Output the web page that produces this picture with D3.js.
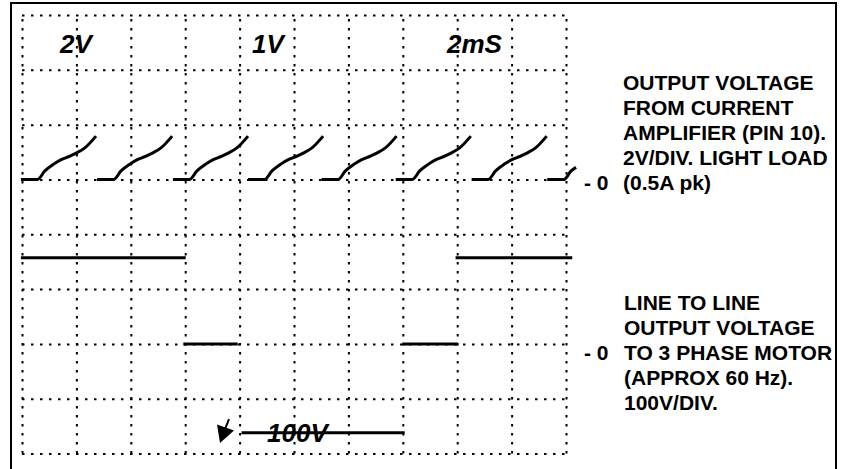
<!DOCTYPE html>
<html>
<head>
<meta charset="utf-8">
<script src="https://cdn.jsdelivr.net/npm/d3@7/dist/d3.min.js"></script>
<style>
body { margin:0; background:#fff; }
svg text { font-family:"Liberation Sans", Arial, sans-serif; font-weight:bold; fill:#000; }
</style>
</head>
<body>
<div id="chart"></div>
<script>
// scope screen: 10 x 8 divisions, 2mS/div
var timeTicks = [0,2,4,6,8,10,12,14,16,18,20];
var divTicks = [0,1,2,3,4,5,6,7,8];

// upper trace - current amplifier output (V), one array per ramp
var ampTimes = [
  [-0.04, 0.57, 0.84, 1.15, 1.46, 1.76, 2.01, 2.31, 2.72],
  [2.76, 3.37, 3.64, 3.95, 4.26, 4.56, 4.81, 5.11, 5.52],
  [5.55, 6.16, 6.43, 6.74, 7.05, 7.35, 7.60, 7.90, 8.31],
  [8.31, 8.92, 9.19, 9.50, 9.81, 10.11, 10.36, 10.66, 11.07],
  [11.01, 11.62, 11.89, 12.20, 12.51, 12.81, 13.06, 13.36, 13.77],
  [13.74, 14.35, 14.62, 14.93, 15.24, 15.54, 15.79, 16.09, 16.50],
  [16.53, 17.14, 17.41, 17.72, 18.03, 18.33, 18.58, 18.88, 19.29],
  [19.31, 19.92, 20.19, 20.37]
];
var ampVolts = [
  [0, 0, 0.31, 0.55, 0.73, 0.85, 0.97, 1.15, 1.58],
  [0, 0, 0.31, 0.55, 0.73, 0.85, 0.97, 1.15, 1.58],
  [0, 0, 0.31, 0.55, 0.73, 0.85, 0.97, 1.15, 1.58],
  [0, 0, 0.31, 0.55, 0.73, 0.85, 0.97, 1.15, 1.58],
  [0, 0, 0.31, 0.55, 0.73, 0.85, 0.97, 1.15, 1.58],
  [0, 0, 0.31, 0.55, 0.73, 0.85, 0.97, 1.15, 1.58],
  [0, 0, 0.31, 0.55, 0.73, 0.85, 0.97, 1.15, 1.58],
  [0, 0, 0.31, 0.44]
];

// lower trace - line to line motor voltage (V), flat steps
var motorStart = [-0.04, 5.93, 8.07, 13.98, 15.94];
var motorEnd   = [6.02, 7.93, 14.07, 16.02, 20.23];
var motorVolts = [157, 0, -162, 0, 157];

var scaleLabels = ["2V", "1V", "2mS"];
var ampNote = ["OUTPUT VOLTAGE", "FROM CURRENT", "AMPLIFIER (PIN 10).", "2V/DIV. LIGHT LOAD", "(0.5A pk)"];
var motorNote = ["LINE TO LINE", "OUTPUT VOLTAGE", "TO 3 PHASE MOTOR", "(APPROX 60 Hz).", "100V/DIV."];

var W = 841, H = 469;
var gLeft = 22, gRight = 566, gTop = 15, gBottom = 453.5;

var svg = d3.select("#chart").append("svg").attr("width", W).attr("height", H);

var x = d3.scaleLinear().domain([0, 20]).range([gLeft, gRight]);
var yDiv = d3.scaleLinear().domain([0, 8]).range([gBottom, gTop]);
var yAmp = d3.scaleLinear().domain([-10, 6]).range([gBottom, gTop]);      // 2V/div, 0 at div 5
var yMotor = d3.scaleLinear().domain([-200, 600]).range([gBottom, gTop]); // 100V/div, 0 at div 2

// frame
svg.append("rect").attr("x", 11).attr("y", 3).attr("width", 825).attr("height", 490)
  .attr("fill", "none").attr("stroke", "#000").attr("stroke-width", 2);

// dotted graticule
var gx = svg.append("g").attr("transform", "translate(0," + gBottom + ")")
  .call(d3.axisBottom(x).tickValues(timeTicks).tickSize(-(gBottom - gTop)).tickFormat(""));
var gy = svg.append("g").attr("transform", "translate(" + gLeft + ",0)")
  .call(d3.axisLeft(yDiv).tickValues(divTicks).tickSize(-(gRight - gLeft)).tickFormat(""));
[gx, gy].forEach(function(g){
  g.select(".domain").remove();
  g.selectAll(".tick line").attr("stroke", "#000").attr("stroke-width", 2).attr("stroke-dasharray", "2.5,6.5");
});

// upper trace
var ampLine = d3.line()
  .x(function(d){ return x(d[0]); })
  .y(function(d){ return yAmp(d[1]); })
  .curve(d3.curveMonotoneX);
var ampData = ampTimes.map(function(ts, i){
  return ts.map(function(t, j){ return [t, ampVolts[i][j]]; });
});
svg.append("g").selectAll("path").data(ampData).enter().append("path")
  .attr("d", ampLine).attr("fill", "none").attr("stroke", "#000").attr("stroke-width", 3);

// lower trace
svg.append("g").selectAll("line").data(motorVolts).enter().append("line")
  .attr("x1", function(d, i){ return x(motorStart[i]); })
  .attr("x2", function(d, i){ return x(motorEnd[i]); })
  .attr("y1", function(d){ return yMotor(d); })
  .attr("y2", function(d){ return yMotor(d); })
  .attr("stroke", "#000").attr("stroke-width", 3);

// scale readouts
var labelX = [60, 252, 447];
svg.append("g").selectAll("text").data(scaleLabels).enter().append("text")
  .attr("x", function(d, i){ return labelX[i]; })
  .attr("y", 53)
  .style("font-size", "26px").style("font-style", "italic")
  .text(function(d){ return d; });

svg.append("text").attr("x", 267).attr("y", 442)
  .style("font-size", "26px").style("font-style", "italic").text("100V");

// channel marker arrow
var tip = [x(7.28), yDiv(0.19)];
var mk = svg.append("g").attr("transform", "translate(" + tip[0] + "," + tip[1] + ")");
mk.append("path").attr("d", "M0,0L14,-12.5L-3,-18.5Z").attr("fill", "#000");
mk.append("line").attr("x1", 5).attr("y1", -14).attr("x2", 9).attr("y2", -24)
  .attr("stroke", "#000").attr("stroke-width", 2);

// zero markers
svg.append("text").attr("x", 584).attr("y", 190).style("font-size", "21px").text("- 0");
svg.append("text").attr("x", 584).attr("y", 360).style("font-size", "21px").text("- 0");

// side notes
svg.append("g").selectAll("text").data(ampNote).enter().append("text")
  .attr("x", 623).attr("y", function(d, i){ return 90 + i * 25; })
  .style("font-size", "21px").text(function(d){ return d; });
svg.append("g").selectAll("text").data(motorNote).enter().append("text")
  .attr("x", 624).attr("y", function(d, i){ return 310 + i * 25; })
  .style("font-size", "21px").text(function(d){ return d; });
</script>
</body>
</html>
